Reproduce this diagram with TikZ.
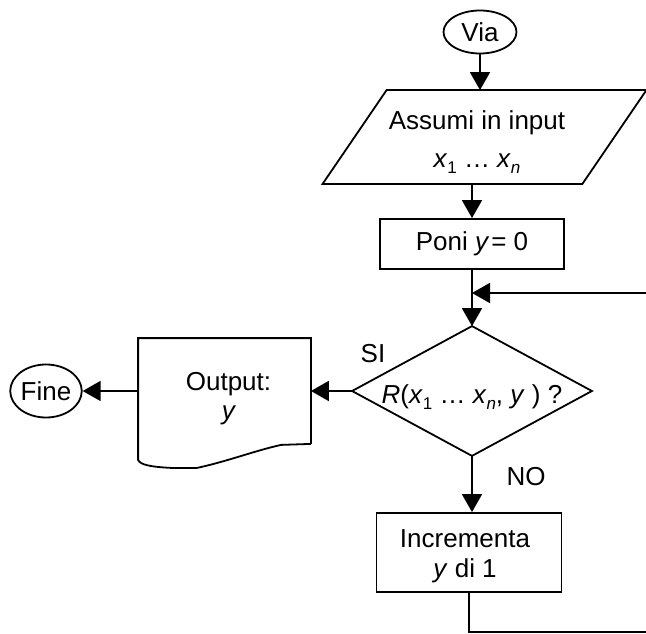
\documentclass[tikz,border=0pt]{standalone}
\usepackage{fontspec}
\setmainfont{Liberation Sans}
\usetikzlibrary{shapes.geometric,arrows.meta,calc}
\newcommand{\lowsub}[1]{\raisebox{-6pt}{\fontsize{17}{20}\selectfont #1}}
\begin{document}
\begin{tikzpicture}[x=1pt,y=-1pt,
  font=\fontsize{26}{30}\selectfont,
  line width=1.8pt,
  flow/.style={-{Triangle[width=20pt,length=18pt]}},
  terminal/.style={draw, ellipse, inner sep=0pt},
  procbox/.style={draw, rectangle, inner sep=0pt},
  frame/.style={rectangle, inner sep=0pt},
  txt/.style={anchor=base, inner sep=0pt},
  ]
\useasboundingbox (0,0) rectangle (646,634);
\clip (0,0) rectangle (646,634);

% start
\node[terminal, minimum width=73pt, minimum height=43pt] (via) at (480,32) {Via};

% input (parallelogram)
\node[frame, minimum width=258pt, minimum height=92pt] (input) at (484.5,137) {};
\draw ($(input.north west)+(32,0)$) -- ($(input.north east)+(32,0)$)
   -- ($(input.south east)+(-32,0)$) -- ($(input.south west)+(-32,0)$) -- cycle;
\node[txt] (inl1) at (477,129) {Assumi in input};
\node[txt] (inl2) at (477,167) {\textit{x}\lowsub{1} … \textit{x}\lowsub{\textit{n}}};

% initialisation
\node[procbox, minimum width=184pt, minimum height=50pt] (poni) at (472,244) {Poni \textit{y}\kern2pt= 0};

% decision (diamond drawn on the corners of its frame)
\node[frame, minimum width=238pt, minimum height=128pt] (test) at (472,391) {};
\draw (test.north) -- (test.east) -- (test.south) -- (test.west) -- cycle;
\node[txt] (testl) at (472,403)
  {\textit{R}(\textit{x}\lowsub{1} … \textit{x}\lowsub{\textit{n}}, \textit{y} ) ?};
\node[txt] (si) at (373,362) {SI};
\node[txt] (no) at (526,485) {NO};

% output (document shape)
\node[frame, minimum width=171pt, minimum height=104pt] (out) at (224.5,391) {};
\draw (out.south east) -- (out.north east) -- (out.north west) -- ($(out.south west)+(0,16)$)
  .. controls ($(out.south west)+(2,21)$) and ($(out.south west)+(13,23)$) .. ($(out.south west)+(33,24)$)
  -- ($(out.south west)+(59,24)$)
  .. controls ($(out.south west)+(91,17)$) and ($(out.south west)+(116,7)$) .. ($(out.south west)+(143,1)$)
  -- (out.south east);
\node[txt] (outl1) at (228.5,390) {Output:};
\node[txt] (outl2) at (229,419) {\textit{y}};

% end
\node[terminal, minimum width=71pt, minimum height=53pt] (fine) at (46,391) {Fine};

% increment
\node[procbox, minimum width=185pt, minimum height=79pt] (incr) at (469,552.5) {};
\node[txt] (incl1) at (465,547) {Incrementa};
\node[txt] (incl2) at (465,577) {\textit{y} di 1};

% loop points
\coordinate (merge) at (472,293);
\coordinate (loopcorner) at (680,632);

% connectors
\draw[flow] (via) -- (via |- input.north);
\draw[flow] (input.south -| poni) -- (poni);
\draw[flow] (poni.south) -- (test.north);
\draw[flow] (test.west) -- (out.east);
\draw[flow] (out.west) -- (fine.east);
\draw[flow] (test.south) -- (test.south |- incr.north);
\draw[flow] (incr.south) |- (loopcorner) |- (merge);
\end{tikzpicture}
\end{document}
